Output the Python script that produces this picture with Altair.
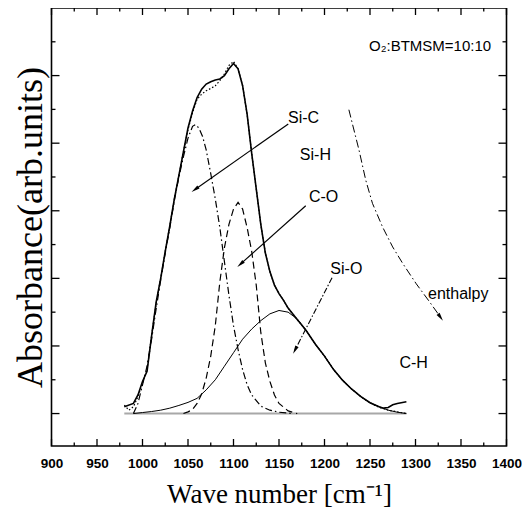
import math
import altair as alt
import pandas as pd

# ---------------- data ----------------
exp_x = [980, 990, 995, 1000, 1005, 1010, 1015, 1020, 1025, 1030, 1035, 1040, 1045, 1050, 1055,
         1060, 1065, 1070, 1075, 1080, 1085, 1090, 1095, 1100, 1105, 1110, 1115, 1120, 1125,
         1130, 1135, 1140, 1145, 1150, 1155, 1160, 1165, 1170, 1175, 1180, 1190, 1200, 1210,
         1220, 1230, 1240, 1250, 1260, 1265, 1270, 1275, 1280, 1290]
exp_y = [0.20, 0.30, 0.55, 0.95, 1.25, 2.30, 3.30, 4.00, 4.80, 5.55, 6.35, 7.05, 7.75, 8.45, 8.95,
         9.35, 9.60, 9.75, 9.82, 9.87, 9.90, 10.00, 10.20, 10.36, 10.20, 9.70, 8.85, 7.70, 6.65,
         5.60, 4.75, 4.20, 3.80, 3.55, 3.35, 3.12, 2.95, 2.78, 2.62, 2.45, 2.05, 1.70, 1.30,
         0.98, 0.72, 0.50, 0.32, 0.20, 0.16, 0.18, 0.26, 0.30, 0.35]

fit_x = [980, 985, 990, 995, 1000, 1005, 1010, 1015, 1020, 1025, 1030, 1035, 1040, 1045, 1050,
         1055, 1060, 1065, 1070, 1075, 1080, 1085, 1090, 1095, 1100, 1105, 1110, 1115, 1120,
         1125, 1130, 1135, 1140, 1145, 1150, 1155, 1160, 1165, 1170, 1175, 1180, 1190, 1200,
         1210, 1220, 1230, 1240, 1250, 1260, 1270, 1280, 1290]
fit_y = [0.25, 0.10, 0.20, 0.50, 0.90, 1.30, 2.30, 3.25, 4.00, 4.80, 5.55, 6.35, 7.05, 7.75, 8.40,
         8.90, 9.30, 9.45, 9.55, 9.62, 9.70, 9.85, 10.05, 10.30, 10.42, 10.20, 9.70, 8.85, 7.70,
         6.65, 5.60, 4.75, 4.20, 3.80, 3.55, 3.35, 3.12, 2.95, 2.78, 2.62, 2.45, 2.05, 1.70,
         1.30, 0.98, 0.72, 0.50, 0.32, 0.18, 0.10, 0.05, 0.00]

sic_x = [990, 995, 1000, 1005, 1010, 1015, 1020, 1025, 1030, 1035, 1040, 1045, 1050, 1055, 1058,
         1062, 1066, 1070, 1075, 1080, 1085, 1090, 1095, 1100, 1105, 1110, 1115, 1120, 1130,
         1140, 1150, 1165]
sic_y = [0.00, 0.30, 0.85, 1.40, 2.20, 3.10, 3.95, 4.75, 5.50, 6.30, 7.00, 7.60, 8.15, 8.50, 8.55,
         8.45, 8.20, 7.80, 7.10, 6.35, 5.50, 4.50, 3.50, 2.60, 1.90, 1.30, 0.85, 0.55, 0.22,
         0.10, 0.04, 0.00]

co_x = [1045, 1050, 1055, 1060, 1065, 1070, 1075, 1080, 1085, 1090, 1095, 1100, 1105, 1110, 1115,
        1120, 1125, 1130, 1135, 1140, 1145, 1150, 1160, 1170]
co_y = [0.00, 0.05, 0.12, 0.30, 0.58, 1.05, 1.70, 2.60, 3.90, 4.90, 5.60, 6.05, 6.25, 6.05, 5.50,
        4.80, 3.80, 2.40, 1.50, 0.95, 0.55, 0.30, 0.08, 0.00]

sio_x = [990, 1000, 1010, 1020, 1030, 1040, 1050, 1060, 1070, 1080, 1090, 1100, 1110, 1120, 1130,
         1140, 1150, 1160, 1170, 1180, 1190, 1200, 1210, 1220, 1230, 1240, 1250, 1260, 1270,
         1280, 1290]
sio_y = [0.00, 0.03, 0.06, 0.10, 0.16, 0.24, 0.33, 0.45, 0.70, 1.00, 1.40, 1.80, 2.20, 2.50, 2.75,
         2.95, 3.05, 3.00, 2.80, 2.45, 2.05, 1.70, 1.30, 0.98, 0.72, 0.50, 0.32, 0.20, 0.10,
         0.04, 0.00]

base_x = [980, 1290]
base_y = [0, 0]

enth_x = [1226.8, 1230.5, 1237.9, 1245.3, 1252.7, 1263.8, 1274.9, 1286.0, 1300.8, 1315.6, 1327.5]
enth_y = [8.99, 8.59, 7.80, 6.91, 6.22, 5.52, 4.93, 4.44, 3.84, 3.30, 2.85]

arrow_names = ["Si-C", "C-O", "Si-O"]
arrow_x1 = [1160.2, 1179.4, 1208.3]
arrow_y1 = [8.57, 6.15, 4.02]
arrow_x2 = [1057.7, 1107.6, 1167.6]
arrow_y2 = [6.63, 4.42, 1.88]

label_text = ["Si-C", "Si-H", "C-O", "Si-O", "enthalpy", "C-H"]
label_x = [1177, 1190, 1199, 1224, 1347, 1298]
label_y = [8.74, 7.65, 6.40, 4.29, 3.54, 1.51]

cond_text = ["O\u2082:BTMSM=10:10"]
cond_x = [1316]
cond_y = [10.87]

x_major = list(range(900, 1401, 50))
x_minor = list(range(925, 1400, 50))
y_major = [0, 2, 4, 6, 8, 10]
y_minor = [1, 3, 5, 7, 9, 11]

# ---------------- layout ----------------
W, H = 455, 438
XMIN, XMAX = 900, 1400
YMIN, YMAX = -0.96, 12.0
SANS = "Liberation Sans Narrow, Arial Narrow, Liberation Sans, Arial, sans-serif"
SERIF = "Liberation Serif, Times New Roman, serif"

xs = alt.Scale(domain=[XMIN, XMAX], nice=False, zero=False)
ys = alt.Scale(domain=[YMIN, YMAX], nice=False, zero=False)


def curve_df(xv, yv):
    return pd.DataFrame({"x": xv, "y": yv, "i": list(range(len(xv)))})


def line_layer(df, dash=None, width=1.2, color="black"):
    kw = dict(color=color, strokeWidth=width, clip=True)
    if dash:
        kw["strokeDash"] = dash
    return alt.Chart(df).mark_line(**kw).encode(
        x=alt.X("x:Q", scale=xs, axis=None),
        y=alt.Y("y:Q", scale=ys, axis=None),
        order="i:Q",
    )


main_x_axis = alt.Axis(values=x_major, format="d", ticks=False, domain=False, grid=False,
                       labelFont=SANS, labelFontSize=13.5, labelFontWeight="bold",
                       labelColor="black", labelPadding=10, labelOverlap=False, labelFlush=False,
                       title="Wave number [cm\u207b\u00b9]", titleFont=SERIF, titleFontSize=27,
                       titleFontWeight="normal", titleColor="black", titlePadding=12)
main_y_axis = alt.Axis(labels=False, ticks=False, domain=False, grid=False,
                       title="Absorbance(arb.units)", titleFont=SERIF, titleFontSize=36,
                       titleFontWeight="normal", titleColor="black", titlePadding=2)

exp_layer = alt.Chart(curve_df(exp_x, exp_y)).mark_line(color="black", strokeWidth=1.6).encode(
    x=alt.X("x:Q", scale=xs, axis=main_x_axis),
    y=alt.Y("y:Q", scale=ys, axis=main_y_axis),
    order="i:Q",
)


# inward tick marks on all four sides (positions from the tick lists through the scales)
def xticks(vals, length, side):
    df = pd.DataFrame({"v": vals})
    if side == "bottom":
        yv, y2v = alt.value(H), alt.value(H - length)
    else:
        yv, y2v = alt.value(0), alt.value(length)
    return alt.Chart(df).mark_rule(color="black", strokeWidth=1.3).encode(
        x=alt.X("v:Q", scale=xs, axis=None), y=yv, y2=y2v)


def yticks(vals, length, side):
    df = pd.DataFrame({"v": vals})
    if side == "left":
        xv, x2v = alt.value(0), alt.value(length)
    else:
        xv, x2v = alt.value(W), alt.value(W - length)
    return alt.Chart(df).mark_rule(color="black", strokeWidth=1.3).encode(
        y=alt.Y("v:Q", scale=ys, axis=None), x=xv, x2=x2v)


tick_layers = [
    xticks(x_major, 7, "bottom"), xticks(x_minor, 3.5, "bottom"),
    xticks(x_major, 7, "top"), xticks(x_minor, 3.5, "top"),
    yticks(y_major, 8, "left"), yticks(y_minor, 4, "left"),
    yticks(y_major, 8, "right"), yticks(y_minor, 4, "right"),
]

base_layer = line_layer(curve_df(base_x, base_y), width=2, color="#a8a8a8")
sio_layer = line_layer(curve_df(sio_x, sio_y), width=1.0)
sic_layer = line_layer(curve_df(sic_x, sic_y), dash=[7, 3, 1.5, 3], width=1.2)
co_layer = line_layer(curve_df(co_x, co_y), dash=[7, 4], width=1.2)
fit_layer = line_layer(curve_df(fit_x, fit_y), dash=[1.5, 2], width=1.2)
enth_layer = line_layer(curve_df(enth_x, enth_y), dash=[8, 3, 1.5, 3], width=1.0)

# arrows
seg_rows = []
for k, name in enumerate(arrow_names):
    seg_rows.append({"a": name, "x": arrow_x1[k], "y": arrow_y1[k], "i": 0})
    seg_rows.append({"a": name, "x": arrow_x2[k], "y": arrow_y2[k], "i": 1})
seg_df = pd.DataFrame(seg_rows)
solid_arrows = alt.Chart(seg_df[seg_df["a"] != "Si-O"]).mark_line(color="black", strokeWidth=1.2).encode(
    x=alt.X("x:Q", scale=xs, axis=None), y=alt.Y("y:Q", scale=ys, axis=None),
    detail="a:N", order="i:Q")
dash_arrows = alt.Chart(seg_df[seg_df["a"] == "Si-O"]).mark_line(
    color="black", strokeWidth=1.1, strokeDash=[6, 2, 1.5, 2]).encode(
    x=alt.X("x:Q", scale=xs, axis=None), y=alt.Y("y:Q", scale=ys, axis=None),
    detail="a:N", order="i:Q")

sx = W / (XMAX - XMIN)
sy = H / (YMAX - YMIN)


def head_angle(x1, y1, x2, y2):
    dx = (x2 - x1) * sx
    dy = -(y2 - y1) * sy
    return math.degrees(math.atan2(dx, -dy)) % 360


head_x = list(arrow_x2) + [enth_x[-1]]
head_y = list(arrow_y2) + [enth_y[-1]]
head_a = [head_angle(arrow_x1[k], arrow_y1[k], arrow_x2[k], arrow_y2[k]) for k in range(3)]
head_a.append(head_angle(enth_x[-2], enth_y[-2], enth_x[-1], enth_y[-1]))
heads = alt.Chart(pd.DataFrame({"x": head_x, "y": head_y, "ang": head_a})).mark_point(
    shape="M0,-1L0.45,1L-0.45,1Z", filled=True, color="black", opacity=1, size=70).encode(
    x=alt.X("x:Q", scale=xs, axis=None), y=alt.Y("y:Q", scale=ys, axis=None),
    angle=alt.Angle("ang:Q", scale=None))

labels = alt.Chart(pd.DataFrame({"t": label_text, "x": label_x, "y": label_y})).mark_text(
    font=SANS, fontSize=16, color="black", align="center", baseline="middle").encode(
    x=alt.X("x:Q", scale=xs, axis=None), y=alt.Y("y:Q", scale=ys, axis=None), text="t:N")

cond_label = alt.Chart(pd.DataFrame({"t": cond_text, "x": cond_x, "y": cond_y})).mark_text(
    font=SANS, fontSize=15, color="black", align="center", baseline="middle").encode(
    x=alt.X("x:Q", scale=xs, axis=None), y=alt.Y("y:Q", scale=ys, axis=None), text="t:N")

chart = alt.layer(
    exp_layer, *tick_layers,
    base_layer, sio_layer, sic_layer, co_layer, fit_layer, enth_layer,
    solid_arrows, dash_arrows, heads, labels, cond_label,
).resolve_axis(x="independent", y="independent").properties(
    width=W, height=H, background="white",
    autosize=alt.AutoSizeParams(type="none"),
    padding={"left": 43.5, "top": 0, "right": 15.5, "bottom": 63},
).configure_view(stroke="black", strokeWidth=1.6)

chart.save("out.html", embed_options={"renderer": "svg", "actions": False})
